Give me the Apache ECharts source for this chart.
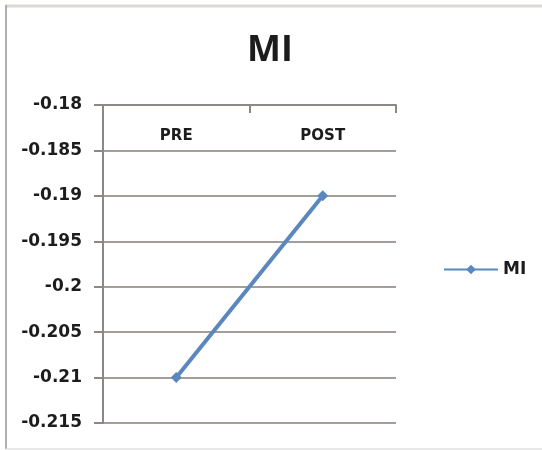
<!DOCTYPE html>
<html>
<head>
<meta charset="utf-8">
<script src="https://cdn.jsdelivr.net/npm/echarts@6/dist/echarts.min.js"></script>
<style>
  html, body { margin: 0; padding: 0; background: #ffffff; overflow: hidden; }
  #chart { width: 542px; height: 450px; }
</style>
</head>
<body>
<div id="chart"></div>
<script>
// Categories and values for the MI series
const categories = ['PRE', 'POST'];
const miValues = [-0.21, -0.19];
const yMin = -0.215;
const yMax = -0.18;
const yStep = 0.005;

const font = '"DejaVu Sans", sans-serif';
const titleFont = '"Open Sans", sans-serif';
const textColor = '#1c1c1c';
const axisColor = '#8c8886';
const gridColor = '#a39e9c';
const lineColor = '#5a87bd';

const chart = echarts.init(document.getElementById('chart'), null, { renderer: 'canvas' });

chart.setOption({
  animation: false,
  backgroundColor: '#ffffff',
  // chart-area frame: top, left and bottom edges
  graphic: [
    { type: 'line', shape: { x1: 6, y1: 6, x2: 542, y2: 6 }, style: { stroke: '#dcd8d6', lineWidth: 3 }, silent: true },
    { type: 'line', shape: { x1: 6, y1: 5, x2: 6, y2: 449 }, style: { stroke: '#9a9694', lineWidth: 1.5 }, silent: true },
    { type: 'line', shape: { x1: 6, y1: 449, x2: 542, y2: 449 }, style: { stroke: '#e2e0e0', lineWidth: 1.5 }, silent: true }
  ],
  title: {
    text: 'MI',
    left: 265,
    top: 28,
    textAlign: 'center',
    textStyle: { fontFamily: titleFont, fontWeight: 'bold', fontSize: 36, color: textColor }
  },
  legend: {
    left: 438,
    top: 256,
    itemWidth: 54,
    itemHeight: 12,
    textStyle: { fontFamily: font, fontWeight: 'bold', fontSize: 17, color: textColor },
    data: ['MI']
  },
  grid: { left: 103, top: 105, right: 146, bottom: 27, containLabel: false },
  xAxis: {
    type: 'category',
    position: 'top',
    data: categories,
    boundaryGap: true,
    axisLine: { show: true, lineStyle: { color: axisColor, width: 2 } },
    axisTick: { show: true, inside: true, length: 8, lineStyle: { color: axisColor, width: 2 } },
    axisLabel: {
      inside: true,
      margin: 24,
      fontFamily: font,
      fontWeight: 'bold',
      fontSize: 15,
      color: textColor
    },
    splitLine: { show: false }
  },
  yAxis: {
    type: 'value',
    min: yMin,
    max: yMax,
    interval: yStep,
    axisLine: { show: true, lineStyle: { color: axisColor, width: 2 } },
    axisTick: { show: true, length: 9, lineStyle: { color: axisColor, width: 2 } },
    axisLabel: {
      margin: 21,
      fontFamily: font,
      fontWeight: 'bold',
      fontSize: 17,
      color: textColor,
      formatter: v => String(parseFloat(v.toFixed(3)))
    },
    splitLine: { show: true, lineStyle: { color: gridColor, width: 2 } }
  },
  series: [
    {
      name: 'MI',
      type: 'line',
      data: miValues,
      symbol: 'diamond',
      symbolSize: 11,
      showSymbol: true,
      color: lineColor,
      lineStyle: { color: lineColor, width: 4 },
      itemStyle: { color: lineColor }
    }
  ]
});
</script>
</body>
</html>
